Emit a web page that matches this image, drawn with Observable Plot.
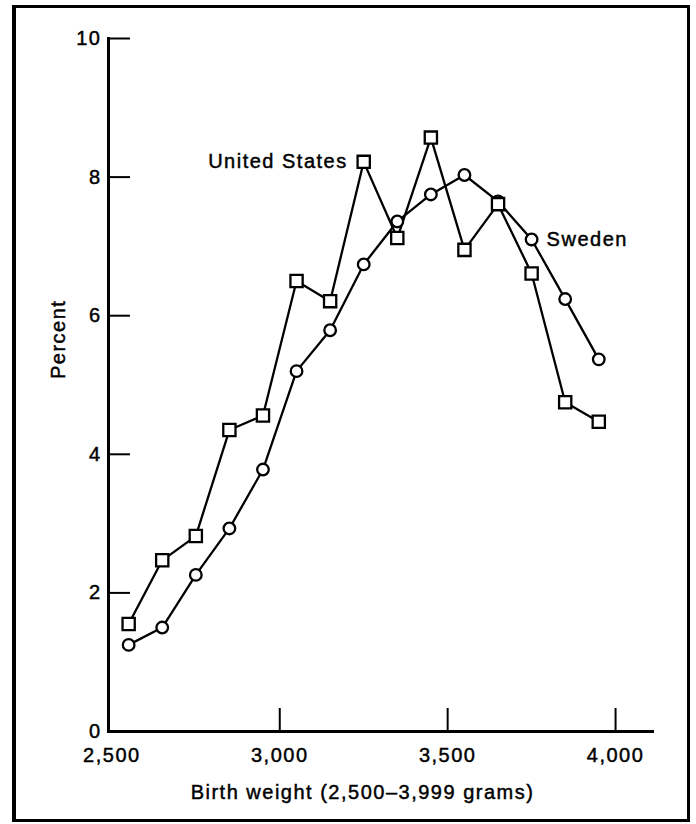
<!DOCTYPE html>
<html>
<head>
<meta charset="utf-8">
<script src="https://cdn.jsdelivr.net/npm/d3@7"></script>
<script src="https://cdn.jsdelivr.net/npm/@observablehq/plot@0.6"></script>
<style>
  html, body { margin: 0; padding: 0; background: #fff; }
  #wrap { position: relative; width: 696px; height: 824px; overflow: hidden; }
  #wrap svg { position: absolute; left: 0; top: 0; }
  #wrap svg text { stroke: #000; stroke-width: 0.45px; }
  #border { position: absolute; left: 12px; top: 5px; width: 678px; height: 817px; box-sizing: border-box;
            border: 3px solid #000; border-left-width: 4px; pointer-events: none; }
</style>
</head>
<body>
<div id="wrap"><div id="border"></div></div>
<script>
// Birth weight class midpoints (grams)
const weights = [2550, 2650, 2750, 2850, 2950, 3050, 3150, 3250, 3350, 3450, 3550, 3650, 3750, 3850, 3950];
// Percent of births, United States (squares)
const unitedStates = [1.55, 2.47, 2.82, 4.35, 4.56, 6.50, 6.21, 8.22, 7.12, 8.57, 6.95, 7.61, 6.61, 4.75, 4.47];
// Percent of births, Sweden (circles)
const sweden = [1.25, 1.50, 2.26, 2.93, 3.78, 5.20, 5.79, 6.74, 7.36, 7.75, 8.03, 7.65, 7.10, 6.24, 5.37];

const xTicks = [2500, 3000, 3500, 4000];
const yTicks = [0, 2, 4, 6, 8, 10];
const seriesNames = ["United States", "Sweden"];
const xTitle = "Birth weight (2,500\u20133,999 grams)";
const yTitle = "Percent";

const us = weights.map((w, i) => ({weight: w, pct: unitedStates[i]}));
const sw = weights.map((w, i) => ({weight: w, pct: sweden[i]}));

const chart = Plot.plot({
  width: 696,
  height: 824,
  marginLeft: 108,
  marginRight: 44,
  marginTop: 38,
  marginBottom: 93,
  style: {
    fontFamily: "'Liberation Sans', Arial, Helvetica, sans-serif",
    fontSize: "20px",
    letterSpacing: "1.5px",
    color: "#000",
    background: "transparent"
  },
  x: {domain: [2490, 4110]},
  y: {domain: [0, 10]},
  marks: [
    Plot.frame({anchor: "left", stroke: "#000", strokeWidth: 3}),
    Plot.frame({anchor: "bottom", stroke: "#000", strokeWidth: 3}),
    Plot.axisY({ticks: yTicks, tickSize: 0, tickPadding: 7, label: null, fontSize: 20}),
    Plot.axisY({ticks: yTicks.slice(1), tickSize: -22, strokeWidth: 2, tickFormat: () => "", label: null}),
    Plot.axisX({ticks: xTicks, tickSize: 0, tickPadding: 16, tickFormat: d3.format(","), label: null, fontSize: 20}),
    Plot.axisX({ticks: xTicks.slice(1), tickSize: -23, strokeWidth: 2, tickFormat: () => "", label: null}),
    Plot.line(sw, {x: "weight", y: "pct", stroke: "#000", strokeWidth: 2.3}),
    Plot.line(us, {x: "weight", y: "pct", stroke: "#000", strokeWidth: 2.3}),
    Plot.dot(sw, {x: "weight", y: "pct", symbol: "circle", r: 5.8, fill: "#fff", stroke: "#000", strokeWidth: 2.3}),
    Plot.dot(us, {x: "weight", y: "pct", symbol: "square", r: 6.9, fill: "#fff", stroke: "#000", strokeWidth: 2.3}),
    Plot.text([us[7]], {x: "weight", y: "pct", text: () => seriesNames[0], textAnchor: "end", dx: -16, fontSize: 20, fill: "#000"}),
    Plot.text([sw[12]], {x: "weight", y: "pct", text: () => seriesNames[1], textAnchor: "start", dx: 15, fontSize: 20, fill: "#000"}),
    Plot.text([yTitle], {frameAnchor: "left", rotate: -90, dx: -50, dy: -6, lineAnchor: "middle", fontSize: 20, fill: "#000"}),
    Plot.text([xTitle], {frameAnchor: "bottom", dx: -18, dy: 61, lineAnchor: "middle", fontSize: 20, fill: "#000"})
  ]
});

document.getElementById("wrap").prepend(chart);
</script>
</body>
</html>
